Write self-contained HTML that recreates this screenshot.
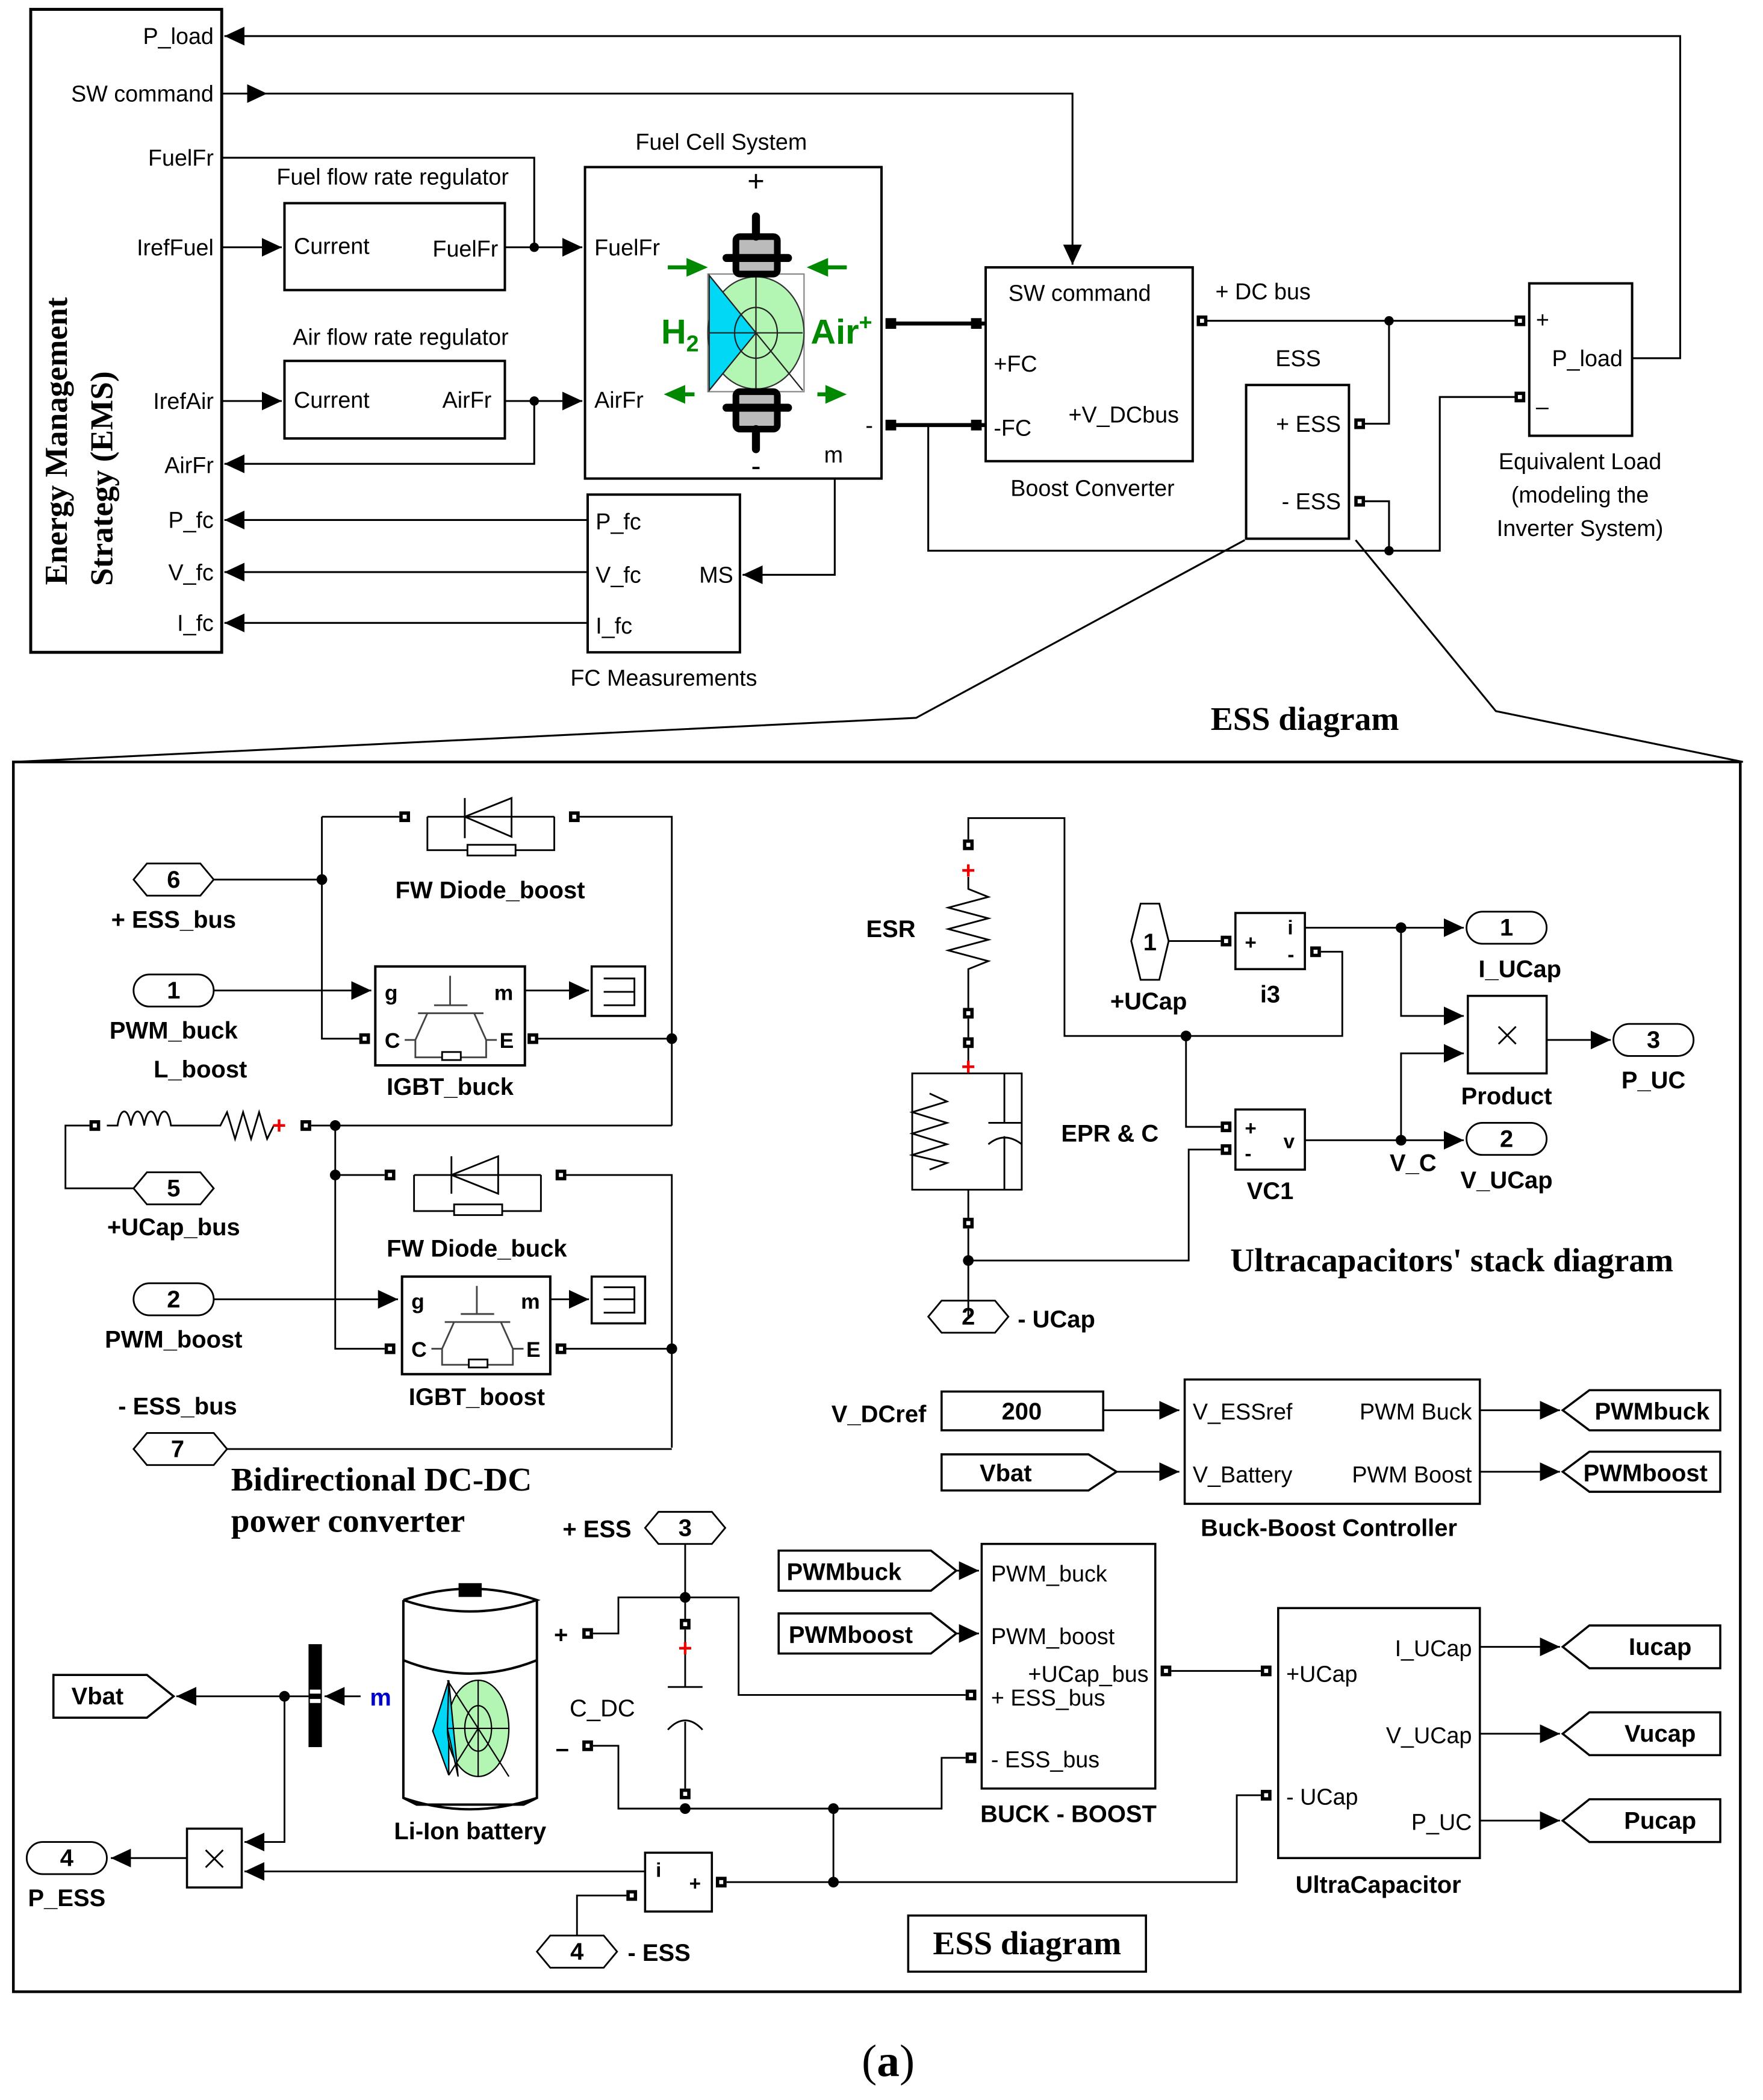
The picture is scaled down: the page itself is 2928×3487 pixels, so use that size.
<!DOCTYPE html>
<html><head><meta charset="utf-8"><style>
html,body{margin:0;padding:0;background:#fff}
svg{display:block}
text{font-family:"Liberation Sans",sans-serif;fill:#000}
.r{font-size:17px}
.b{font-size:18px;font-weight:bold}
.s{font-family:"Liberation Serif",serif;font-weight:bold;font-size:25px}
.m{text-anchor:middle}.e{text-anchor:end}
</style></head><body>
<svg width="2928" height="3487" viewBox="0 0 1320 1571" preserveAspectRatio="none" xmlns="http://www.w3.org/2000/svg">
<defs>
<marker id="a" markerUnits="userSpaceOnUse" markerWidth="16" markerHeight="14" refX="15" refY="7" orient="auto"><path d="M0,0 L15,7 L0,14 Z" fill="#000"/></marker>
<g id="p"><rect x="-4" y="-4" width="8" height="8" fill="#000"/><rect x="-1.5" y="-1.5" width="3" height="3" fill="#fff"/></g>
</defs>
<rect width="1320" height="1571" fill="#fff"/>
<g fill="none" stroke="#000" stroke-width="1.4">
<!-- EMS -->
<rect x="23" y="7" width="143" height="481" stroke-width="2.2"/>
<!-- P_load -->
<path d="M1222,268 H1258 V27 H168" marker-end="url(#a)"/>
<path d="M166,70 H200" marker-end="url(#a)"/>
<path d="M200,70 H803 V198" marker-end="url(#a)"/>
<path d="M166,118 H400 V185"/>
<path d="M166,185 H211" marker-end="url(#a)"/>
<rect x="213" y="152" width="165" height="65" stroke-width="1.8"/>
<path d="M378,185 H436" marker-end="url(#a)"/>
<path d="M166,300 H211" marker-end="url(#a)"/>
<rect x="213" y="270" width="165" height="58" stroke-width="1.8"/>
<path d="M378,300 H436" marker-end="url(#a)"/>
<path d="M400,300 V347 H168" marker-end="url(#a)"/>
<rect x="438" y="125" width="222" height="233" stroke-width="1.8"/>
<path d="M667,242 H738 M667,318 H738" stroke-width="3"/>
<path d="M695,318 V412 H1078 V297 H1138"/>
<path d="M900,240 H1138 M1040,240 V317 H1018 M1018,375 H1040 V412"/>
<rect x="738" y="200" width="155" height="145" stroke-width="1.8"/>
<rect x="933" y="288" width="77" height="115" stroke-width="1.8"/>
<rect x="1145" y="212" width="77" height="114" stroke-width="1.8"/>
<rect x="440" y="370" width="114" height="118" stroke-width="1.8"/>
<path d="M440,389 H168" marker-end="url(#a)"/>
<path d="M440,428 H168" marker-end="url(#a)"/>
<path d="M440,466 H168" marker-end="url(#a)"/>
<path d="M625,358 V430 H556" marker-end="url(#a)"/>
<!-- zoom lines -->
<path d="M932,404 L686,537 L10,570 M1015,404 L1120,532 L1305,570"/>
<!-- lower box -->
<rect x="10" y="570" width="1293" height="920" stroke-width="2"/>
</g>
<g fill="#000">
<circle cx="400" cy="185" r="3.5"/><circle cx="400" cy="300" r="3.5"/>
<circle cx="1040" cy="240" r="3.5"/><circle cx="1040" cy="412" r="3.5"/>
<rect x="663" y="238" width="8" height="8"/><rect x="663" y="314" width="8" height="8"/>
<rect x="727" y="238" width="8" height="8"/><rect x="727" y="314" width="8" height="8"/>
</g>
<use href="#p" x="900" y="240"/><use href="#p" x="1018" y="317"/><use href="#p" x="1018" y="375"/>
<use href="#p" x="1138" y="240"/><use href="#p" x="1138" y="297"/>
<!-- FC icon -->
<g>
<rect x="530" y="205" width="72" height="88" fill="#fff" stroke="#888"/>
<path d="M566,207 A36,42 0 0 1 566,291 A36,42 0 0 1 566,207Z" fill="#b3f5b3" stroke="#333"/>
<path d="M531,206 L566,249 L531,292 Z" fill="#00d8f5" stroke="#222"/>
<ellipse cx="566" cy="249" rx="16" ry="19" fill="none" stroke="#222"/>
<path d="M531,249 H601 M566,207 V291 M566,249 L601,292" stroke="#222" fill="none"/>
<rect x="551" y="177" width="31" height="28" rx="3" fill="#bbb" stroke="#000" stroke-width="5"/>
<rect x="551" y="293" width="31" height="28" rx="3" fill="#bbb" stroke="#000" stroke-width="5"/>
<path d="M566,162 V177 M544,193 H590 M566,321 V336 M544,305 H590" stroke="#000" stroke-width="6" stroke-linecap="round"/>
<path d="M500,200 H522" stroke="#080" stroke-width="3"/><path d="M530,200 L514,193 L514,207Z" fill="#080"/>
<path d="M634,200 H612" stroke="#080" stroke-width="3"/><path d="M604,200 L620,193 L620,207Z" fill="#080"/>
<path d="M520,295 H505" stroke="#080" stroke-width="3"/><path d="M497,295 L513,288 L513,302Z" fill="#080"/>
<path d="M612,295 H626" stroke="#080" stroke-width="3"/><path d="M634,295 L618,288 L618,302Z" fill="#080"/>
<text x="495" y="257" style="font-size:26px;font-weight:bold;fill:#080">H<tspan style="font-size:17px" dy="6">2</tspan></text>
<text x="607" y="257" style="font-size:26px;font-weight:bold;fill:#080">Air<tspan style="font-size:17px" dy="-10">+</tspan></text>
</g>
<!-- top texts -->
<g class="r">
<text x="160" y="33" class="e">P_load</text><text x="160" y="76" class="e">SW command</text>
<text x="160" y="124" class="e">FuelFr</text><text x="160" y="191" class="e">IrefFuel</text>
<text x="160" y="306" class="e">IrefAir</text><text x="160" y="354" class="e">AirFr</text>
<text x="160" y="395" class="e">P_fc</text><text x="160" y="434" class="e">V_fc</text><text x="160" y="472" class="e">I_fc</text>
<text x="294" y="138" class="m">Fuel flow rate regulator</text>
<text x="220" y="190">Current</text><text x="373" y="192" class="e">FuelFr</text>
<text x="300" y="258" class="m">Air flow rate regulator</text>
<text x="220" y="305">Current</text><text x="368" y="305" class="e">AirFr</text>
<text x="540" y="112" class="m">Fuel Cell System</text>
<text x="445" y="191">FuelFr</text><text x="445" y="305">AirFr</text>
<text x="566" y="143" class="m" style="font-size:22px">+</text><text x="566" y="356" class="m" style="font-size:22px">-</text>
<text x="617" y="346">m</text><text x="648" y="324">-</text>
<text x="755" y="225">SW command</text><text x="744" y="278">+FC</text><text x="744" y="326">-FC</text>
<text x="800" y="316">+V_DCbus</text><text x="818" y="371" class="m">Boost Converter</text>
<text x="910" y="224">+ DC bus</text><text x="972" y="274" class="m">ESS</text>
<text x="1004" y="323" class="e">+ ESS</text><text x="1004" y="381" class="e">- ESS</text>
<text x="1150" y="245">+</text><text x="1162" y="274">P_load</text><text x="1150" y="310">–</text>
<text x="1183" y="351" class="m">Equivalent Load</text><text x="1183" y="376" class="m">(modeling  the</text><text x="1183" y="401" class="m">Inverter System)</text>
<text x="446" y="396">P_fc</text><text x="446" y="436">V_fc</text><text x="446" y="474">I_fc</text><text x="549" y="436" class="e">MS</text>
<text x="497" y="513" class="m">FC Measurements</text>
</g>
<text class="s" transform="translate(50,330) rotate(-90)" text-anchor="middle" style="font-size:24px">Energy Management</text>
<text class="s" transform="translate(84,358) rotate(-90)" text-anchor="middle" style="font-size:24px">Strategy (EMS)</text>
<text x="977" y="546" class="s m">ESS diagram</text>

<!-- ===== LOWER ===== -->
<g fill="none" stroke="#000" stroke-width="1.3">
<!-- FW diode boost -->
<path d="M160,658 H241 M241,611 H299 M241,611 V777 H269 M433,611 H503 V842 M403,777 H503 M503,842 H233 M67,842 H49 V889 H100"/>
<path d="M160,741 H278" marker-end="url(#a)"/>
<path d="M320,611 H415 M320,611 V636 H415 V611 M348,597 V627"/>
<path d="M348,611 L383,597 L383,626 Z"/>
<rect x="350" y="632" width="36" height="8" fill="#fff"/>
<rect x="281" y="723" width="112" height="74" stroke-width="1.8"/>
<path d="M393,741 H441" marker-end="url(#a)"/>
<rect x="443" y="723" width="40" height="37" stroke-width="1.6"/>
<path d="M452,732 H475 V752 H452 M452,742 H475"/>
<!-- igbt symbol buck -->
<path d="M337,730 V752 M325,752 H350 M313,758 H362 M320,758 L311,778 H303 M355,758 L364,778 H372 M311,778 V791 H364 V778" stroke="#444"/>
<rect x="331" y="787" width="14" height="6" fill="#fff"/>
<!-- L_boost -->
<path d="M80,842 H88 C90,828 96,828 98,842 C100,828 106,828 108,842 C110,828 116,828 118,842 C120,828 126,828 128,842 H165 L170,832 L176,852 L182,832 L188,852 L194,832 L200,852 L205,842"/>
<!-- FW diode buck -->
<path d="M251,842 V1009 H288 M251,879 H288 M424,879 H503 V1083 M424,1009 H503 M170,1084 H503"/>
<path d="M310,879 H405 M310,879 V906 H405 V879 M338,865 V893"/>
<path d="M338,879 L373,865 L373,893 Z"/>
<rect x="340" y="901" width="36" height="8" fill="#fff"/>
<path d="M160,972 H298" marker-end="url(#a)"/>
<rect x="301" y="955" width="111" height="73" stroke-width="1.8"/>
<path d="M412,972 H441" marker-end="url(#a)"/>
<rect x="443" y="955" width="40" height="35" stroke-width="1.6"/>
<path d="M452,963 H475 V982 H452 M452,972 H475"/>
<path d="M357,962 V983 M345,983 H370 M333,989 H382 M340,989 L331,1009 H323 M375,989 L384,1009 H392 M331,1009 V1021 H384 V1009" stroke="#444"/>
<rect x="351" y="1017" width="14" height="6" fill="#fff"/>
<!-- tags -->
<path d="M100,658 L110,646 H150 L160,658 L150,670 H110 Z"/>
<rect x="100" y="729" width="60" height="24" rx="12"/>
<path d="M100,889 L110,877 H150 L160,889 L150,901 H110 Z"/>
<rect x="100" y="960" width="60" height="24" rx="12"/>
<path d="M100,1084 L110,1072 H160 L170,1084 L160,1096 H110 Z"/>
<!-- UC stack -->
<path d="M725,628 V612 H797 V775 H1005 V712 H989 M888,775 V843 H914 M725,919 V985 M725,943 H890 V860 H914"/>
<path d="M725,656 V665 L740,671 L710,679 L740,687 L710,695 L740,703 L710,711 L740,719 L725,725 V754 M725,762 V776 M725,784 V803"/>
<path d="M683,803 H765 V890 H683 Z M725,890 V911"/>
<path d="M683,818 L696,824 L670,832 L696,840 L670,848 L696,856 L670,864 L696,870 L683,875" transform="translate(13,0)"/>
<path d="M752,803 V840 M740,840 H765 M740,856 Q752,846 765,856 M752,850 V890"/>
<path d="M847,704 L854,676 H868 L875,704 L868,733 H854 Z"/>
<path d="M875,704 H914"/>
<rect x="925" y="683" width="52" height="42" stroke-width="1.6"/>
<path d="M977,694 H1096" marker-end="url(#a)"/>
<rect x="1098" y="682" width="60" height="24" rx="12"/>
<path d="M1049,694 V760 H1096" marker-end="url(#a)"/>
<rect x="1099" y="745" width="59" height="58" stroke-width="1.6"/>
<path d="M1122,768 L1135,781 M1135,768 L1122,781"/>
<path d="M1158,778 H1206" marker-end="url(#a)"/>
<rect x="1208" y="766" width="60" height="24" rx="12"/>
<rect x="925" y="830" width="52" height="45" stroke-width="1.6"/>
<path d="M977,853 H1096" marker-end="url(#a)"/>
<rect x="1098" y="840" width="60" height="24" rx="12"/>
<path d="M1049,853 V788 H1096" marker-end="url(#a)"/>
<path d="M695,985 L705,973 H745 L755,985 L745,997 H705 Z"/>
<!-- controller -->
<rect x="705" y="1041" width="121" height="29" stroke-width="1.6"/>
<path d="M826,1055 H883" marker-end="url(#a)"/>
<path d="M705,1088 H815 L836,1101 L815,1115 H705 Z" stroke-width="1.6"/>
<path d="M836,1101 H883" marker-end="url(#a)"/>
<rect x="887" y="1032" width="221" height="93" stroke-width="1.6"/>
<path d="M1108,1055 H1168" marker-end="url(#a)"/>
<path d="M1108,1101 H1168" marker-end="url(#a)"/>
<path d="M1170,1055 L1190,1040 H1288 V1070 H1190 Z M1170,1101 L1190,1086 H1288 V1116 H1190 Z" stroke-width="1.6"/>
<!-- lower ESS -->
<path d="M483,1143 L493,1131 H533 L543,1143 L533,1155 H493 Z"/>
<path d="M513,1155 V1211 M513,1195 H463 V1222 H444 M513,1195 H553 V1268 H723 M513,1219 V1262 M500,1262 H526 M500,1294 Q513,1280 526,1294 M513,1288 V1338 M444,1306 H463 V1353 H705 V1315 H723 M624,1353 V1408 H544 M624,1408 H926 V1343 H944 M877,1250 H944"/>
<path d="M583,1160 H697 L716,1175 L697,1190 H583 Z M583,1207 H697 L716,1222 L697,1237 H583 Z" stroke-width="1.6"/>
<path d="M716,1175 H733" marker-end="url(#a)"/>
<path d="M716,1222 H733" marker-end="url(#a)"/>
<rect x="735" y="1155" width="130" height="183" stroke-width="1.6"/>
<rect x="957" y="1203" width="151" height="187" stroke-width="1.6"/>
<path d="M1108,1232 H1168" marker-end="url(#a)"/>
<path d="M1108,1297 H1168" marker-end="url(#a)"/>
<path d="M1108,1362 H1168" marker-end="url(#a)"/>
<path d="M1170,1232 L1190,1216 H1288 V1248 H1190 Z M1170,1297 L1190,1281 H1288 V1313 H1190 Z M1170,1362 L1190,1346 H1288 V1378 H1190 Z" stroke-width="1.6"/>
<!-- battery -->
<path d="M302,1197 V1345 L312,1350 H392 L402,1345 V1197 M302,1197 Q352,1180 402,1197 Q352,1214 302,1197 M302,1242 Q352,1262 402,1242" stroke-width="1.8"/>
<path d="M302,1345 Q352,1362 402,1345" stroke-width="1.8"/>
<rect x="344" y="1185" width="16" height="9" fill="#000"/>
<!-- Vbat left -->
<path d="M40,1253 H110 L130,1269 L110,1285 H40 Z" stroke-width="1.6"/>
<path d="M213,1269 H132" marker-end="url(#a)"/>
<path d="M231,1269 H213 V1378 H183" marker-end="url(#a)"/>
<path d="M270,1269 H243" marker-end="url(#a)"/>
<rect x="140" y="1368" width="41" height="44" stroke-width="1.6"/>
<path d="M154,1384 L167,1397 M167,1384 L154,1397"/>
<path d="M140,1390 H83" marker-end="url(#a)"/>
<rect x="20" y="1378" width="60" height="24" rx="12"/>
<path d="M483,1400 H183" marker-end="url(#a)"/>
<rect x="483" y="1386" width="50" height="44" stroke-width="1.6"/>
<path d="M469,1418 H432 V1448"/>
<path d="M402,1460 L412,1448 H452 L462,1460 L452,1472 H412 Z"/>
<rect x="680" y="1433" width="178" height="42" stroke-width="1.6"/>
</g>
<!-- battery icon -->
<g>
<path d="M336,1257 V1328 L324,1295 Z" fill="#00d8f5" stroke="#000"/>
<ellipse cx="358" cy="1293" rx="23" ry="36" fill="#b3f5b3" stroke="#000"/>
<path d="M336,1257 L335,1293 L343,1329 Z" fill="#00d8f5" stroke="#000"/>
<ellipse cx="358" cy="1293" rx="10" ry="17" fill="none" stroke="#000"/>
<path d="M335,1293 H381 M358,1257 V1329 M335,1257 L381,1329 M336,1328 L358,1293" stroke="#000" fill="none"/>
</g>
<g fill="#000">
<rect x="231" y="1230" width="10" height="77"/><rect x="232" y="1264" width="8" height="3" fill="#fff"/><rect x="232" y="1271" width="8" height="3" fill="#fff"/>
<circle cx="241" cy="658" r="4"/><circle cx="503" cy="777" r="4"/><circle cx="251" cy="842" r="4"/><circle cx="251" cy="879" r="4"/><circle cx="503" cy="1009" r="4"/>
<circle cx="888" cy="775" r="4"/><circle cx="725" cy="943" r="4"/><circle cx="1049" cy="694" r="4"/><circle cx="1049" cy="853" r="4"/>
<circle cx="513" cy="1195" r="4"/><circle cx="513" cy="1353" r="4"/><circle cx="624" cy="1353" r="4"/><circle cx="624" cy="1408" r="4"/><circle cx="213" cy="1269" r="4"/>
</g>
<g>
<use href="#p" x="303" y="611"/><use href="#p" x="430" y="611"/><use href="#p" x="273" y="777"/><use href="#p" x="399" y="777"/>
<use href="#p" x="71" y="842"/><use href="#p" x="229" y="842"/><use href="#p" x="292" y="879"/><use href="#p" x="420" y="879"/>
<use href="#p" x="292" y="1009"/><use href="#p" x="420" y="1009"/>
<use href="#p" x="725" y="632"/><use href="#p" x="725" y="758"/><use href="#p" x="725" y="780"/><use href="#p" x="725" y="915"/>
<use href="#p" x="918" y="704"/><use href="#p" x="985" y="712"/><use href="#p" x="918" y="843"/><use href="#p" x="918" y="860"/>
<use href="#p" x="513" y="1215"/><use href="#p" x="513" y="1342"/><use href="#p" x="440" y="1222"/><use href="#p" x="440" y="1306"/>
<use href="#p" x="727" y="1268"/><use href="#p" x="727" y="1315"/><use href="#p" x="873" y="1250"/><use href="#p" x="948" y="1250"/><use href="#p" x="948" y="1343"/>
<use href="#p" x="540" y="1408"/><use href="#p" x="473" y="1418"/>
</g>
<g class="b">
<text x="367" y="672" class="m">FW Diode_boost</text><text x="130" y="694" class="m">+ ESS_bus</text>
<text x="130" y="664" class="m">6</text><text x="130" y="747" class="m">1</text><text x="130" y="777" class="m">PWM_buck</text>
<text x="150" y="806" class="m">L_boost</text><text x="337" y="819" class="m">IGBT_buck</text>
<text x="288" y="748" style="font-size:16px">g</text><text x="370" y="748" style="font-size:16px">m</text>
<text x="288" y="784" style="font-size:16px">C</text><text x="374" y="784" style="font-size:16px">E</text>
<text x="130" y="895" class="m">5</text><text x="130" y="924" class="m">+UCap_bus</text>
<text x="357" y="940" class="m">FW Diode_buck</text><text x="130" y="978" class="m">2</text><text x="130" y="1008" class="m">PWM_boost</text>
<text x="308" y="979" style="font-size:16px">g</text><text x="390" y="979" style="font-size:16px">m</text>
<text x="308" y="1015" style="font-size:16px">C</text><text x="394" y="1015" style="font-size:16px">E</text>
<text x="357" y="1051" class="m">IGBT_boost</text><text x="133" y="1058" class="m">- ESS_bus</text><text x="133" y="1090" class="m">7</text>
<text x="667" y="701" class="m">ESR</text><text x="831" y="854" class="m">EPR &amp; C</text>
<text x="861" y="711" class="m">1</text><text x="860" y="755" class="m">+UCap</text>
<text x="932" y="710" style="font-size:15px">+</text><text x="964" y="699" style="font-size:15px">i</text><text x="964" y="719" style="font-size:15px">-</text>
<text x="951" y="750" class="m">i3</text><text x="1128" y="700" class="m">1</text><text x="1138" y="731" class="m">I_UCap</text>
<text x="1128" y="826" class="m">Product</text><text x="1238" y="784" class="m">3</text><text x="1238" y="814" class="m">P_UC</text>
<text x="932" y="849" style="font-size:15px">+</text><text x="932" y="868" style="font-size:15px">-</text><text x="961" y="859" style="font-size:15px">v</text>
<text x="951" y="897" class="m">VC1</text><text x="1058" y="876" class="m">V_C</text><text x="1128" y="858" class="m">2</text><text x="1128" y="889" class="m">V_UCap</text>
<text x="725" y="991" class="m">2</text><text x="762" y="993">- UCap</text>
<text x="658" y="1064" class="m">V_DCref</text><text x="765" y="1062" class="m">200</text><text x="753" y="1108" class="m">Vbat</text>
<text x="893" y="1062" style="font-size:17px;font-weight:normal">V_ESSref</text><text x="1102" y="1062" class="e" style="font-size:17px;font-weight:normal">PWM Buck</text>
<text x="893" y="1109" style="font-size:17px;font-weight:normal">V_Battery</text><text x="1102" y="1109" class="e" style="font-size:17px;font-weight:normal">PWM Boost</text>
<text x="1237" y="1062" class="m">PWMbuck</text><text x="1232" y="1108" class="m">PWMboost</text>
<text x="995" y="1149" class="m">Buck-Boost Controller</text>
<text x="447" y="1150" class="m">+ ESS</text><text x="513" y="1149" class="m">3</text>
<text x="632" y="1182" class="m">PWMbuck</text><text x="637" y="1229" class="m">PWMboost</text>
<text x="742" y="1183" style="font-weight:normal;font-size:17px">PWM_buck</text><text x="742" y="1230" style="font-weight:normal;font-size:17px">PWM_boost</text>
<text x="860" y="1258" class="e" style="font-weight:normal;font-size:17px">+UCap_bus</text><text x="742" y="1276" style="font-weight:normal;font-size:17px">+ ESS_bus</text>
<text x="742" y="1322" style="font-weight:normal;font-size:17px">- ESS_bus</text><text x="800" y="1363" class="m">BUCK - BOOST</text>
<text x="963" y="1258" style="font-weight:normal;font-size:17px">+UCap</text><text x="1102" y="1239" class="e" style="font-weight:normal;font-size:17px">I_UCap</text>
<text x="1102" y="1304" class="e" style="font-weight:normal;font-size:17px">V_UCap</text><text x="963" y="1350" style="font-weight:normal;font-size:17px">- UCap</text>
<text x="1102" y="1369" class="e" style="font-weight:normal;font-size:17px">P_UC</text><text x="1032" y="1416" class="m">UltraCapacitor</text>
<text x="1243" y="1238" class="m">Iucap</text><text x="1243" y="1303" class="m">Vucap</text><text x="1243" y="1368" class="m">Pucap</text>
<text x="420" y="1229" class="m">+</text><text x="421" y="1314" class="m">–</text><text x="451" y="1284" class="m" style="font-weight:normal">C_DC</text>
<text x="285" y="1276" class="m" style="fill:#00c">m</text><text x="352" y="1376" class="m">Li-Ion battery</text>
<text x="73" y="1275" class="m">Vbat</text><text x="50" y="1396" class="m">4</text><text x="50" y="1426" class="m">P_ESS</text>
<text x="491" y="1404" style="font-size:15px">i</text><text x="516" y="1414" style="font-size:15px">+</text>
<text x="432" y="1466" class="m">4</text><text x="470" y="1467">- ESS</text>
</g>
<g style="font-size:18px;fill:#e00;font-weight:bold">
<text x="725" y="657" class="m" style="fill:#e00">+</text><text x="725" y="804" class="m" style="fill:#e00">+</text>
<text x="209" y="848" class="m" style="fill:#e00">+</text><text x="513" y="1239" class="m" style="fill:#e00">+</text>
</g>
<text x="1087" y="951" class="s m">Ultracapacitors'  stack  diagram</text>
<text x="173" y="1115" class="s">Bidirectional DC-DC</text><text x="173" y="1146" class="s">power converter</text>
<text x="769" y="1462" class="s m">ESS diagram</text>
<text x="665" y="1553" class="m" style="font-family:'Liberation Serif',serif;font-size:34px"><tspan>(</tspan><tspan font-weight="bold">a</tspan><tspan>)</tspan></text>
</svg>
</body></html>
